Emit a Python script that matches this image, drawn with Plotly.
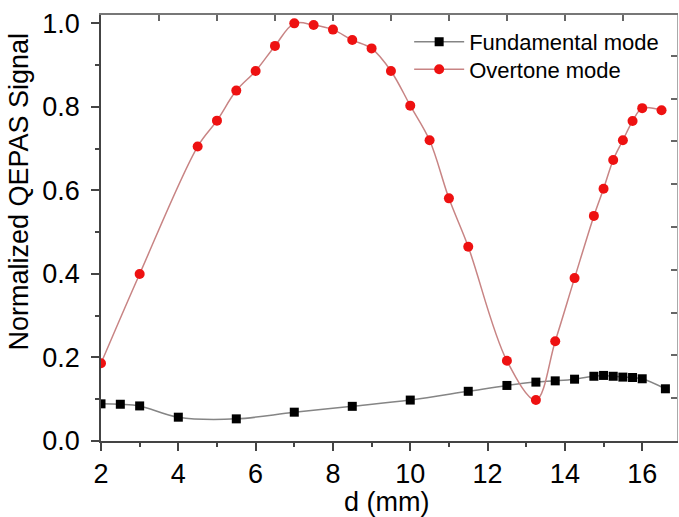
import plotly.graph_objects as go

# ---- data ----
fund_d = [2, 2.5, 3, 4, 5.5, 7, 8.5, 10, 11.5, 12.5, 13.25, 13.75, 14.25, 14.75,
          15, 15.25, 15.5, 15.75, 16, 16.6]
fund_sig = [0.089, 0.088, 0.084, 0.057, 0.053, 0.069, 0.083, 0.098, 0.119, 0.133,
            0.141, 0.144, 0.148, 0.155, 0.157, 0.155, 0.153, 0.152, 0.149, 0.125]

over_d = [2, 3, 4.5, 5, 5.5, 6, 6.5, 7, 7.5, 8, 8.5, 9, 9.5, 10, 10.5, 11, 11.5,
          12.5, 13.25, 13.75, 14.25, 14.75, 15, 15.25, 15.5, 15.75, 16, 16.5]
over_sig = [0.186, 0.40, 0.705, 0.767, 0.839, 0.886, 0.946, 1.0, 0.996, 0.985, 0.96,
            0.94, 0.886, 0.803, 0.72, 0.581, 0.465, 0.192, 0.098, 0.239, 0.39, 0.539,
            0.604, 0.673, 0.72, 0.766, 0.797, 0.792]

series_names = ["Fundamental mode", "Overtone mode"]
x_label = "d (mm)"
y_label = "Normalized QEPAS Signal"

FONT = "Liberation Sans, Arial, sans-serif"

fig = go.Figure()
fig.add_trace(go.Scatter(
    x=fund_d, y=fund_sig, name=series_names[0], mode="lines+markers",
    line=dict(color="#858585", width=1.5, shape="spline", smoothing=1.0),
    marker=dict(symbol="square", size=9, color="#000000"),
    legend="legend",
))
fig.add_trace(go.Scatter(
    x=over_d, y=over_sig, name=series_names[1], mode="lines+markers",
    line=dict(color="#c88484", width=1.5, shape="spline", smoothing=1.0),
    marker=dict(symbol="circle", size=10, color="#ee1111"),
    legend="legend2",
))

leg_common = dict(xanchor="left", yanchor="middle", bgcolor="rgba(0,0,0,0)",
                  font=dict(size=22, family=FONT), itemwidth=50)

fig.update_layout(
    width=679, height=517,
    margin=dict(l=101, r=2, t=15, b=76),
    paper_bgcolor="white", plot_bgcolor="white",
    font=dict(family=FONT, color="black"),
    showlegend=True,
    legend=dict(x=0.535, y=0.937, **leg_common),
    legend2=dict(x=0.535, y=0.872, **leg_common),
    xaxis=dict(
        range=[2, 16.9], tickmode="linear", tick0=2, dtick=2,
        ticks="outside", ticklen=8, tickwidth=1.5, tickcolor="#444",
        showline=True, linecolor="#444", linewidth=1.5,
        showgrid=False, zeroline=False,
        tickfont=dict(size=27, family=FONT),
        minor=dict(dtick=1, ticks="outside", ticklen=4, tickcolor="#444", tickwidth=1.5),
    ),
    yaxis=dict(
        range=[0, 1.02], tickmode="linear", tick0=0, dtick=0.2, tickformat=".1f",
        ticks="outside", ticklen=8, tickwidth=1.5, tickcolor="#444",
        showline=True, linecolor="#444", linewidth=1.5,
        showgrid=False, zeroline=False,
        tickfont=dict(size=27, family=FONT), ticklabelstandoff=6,
        minor=dict(dtick=0.1, ticks="outside", ticklen=4, tickcolor="#444", tickwidth=1.5),
    ),
    xaxis2=dict(
        overlaying="x", side="top", anchor="y", range=[2, 16.9],
        tickmode="linear", tick0=2, dtick=1.5, ticks="inside", ticklen=6,
        tickcolor="#666", tickwidth=1.5, showticklabels=False,
        showline=True, linecolor="#777", linewidth=1.5, showgrid=False, zeroline=False,
    ),
    yaxis2=dict(
        overlaying="y", side="right", anchor="x", range=[0, 1.02],
        tickmode="linear", tick0=0, dtick=0.1025, ticks="inside", ticklen=6,
        tickcolor="#666", tickwidth=1.5, showticklabels=False,
        showline=True, linecolor="#aaa", linewidth=1.2, showgrid=False, zeroline=False,
    ),
    annotations=[
        dict(text=y_label, xref="paper", yref="paper", x=-0.142, y=0.586,
             xanchor="center", yanchor="middle", textangle=-90, showarrow=False,
             font=dict(size=27, family=FONT)),
        dict(text=x_label, xref="paper", yref="paper", x=0.495, y=-0.143,
             xanchor="center", yanchor="middle", showarrow=False,
             font=dict(size=27, family=FONT)),
    ],
)
fig.add_trace(go.Scatter(x=[None], y=[None], xaxis="x2", yaxis="y2",
                         showlegend=False, hoverinfo="skip"))

fig.write_html("out.html", config={"displayModeBar": False},
               post_script="document.body.style.margin='0';")
